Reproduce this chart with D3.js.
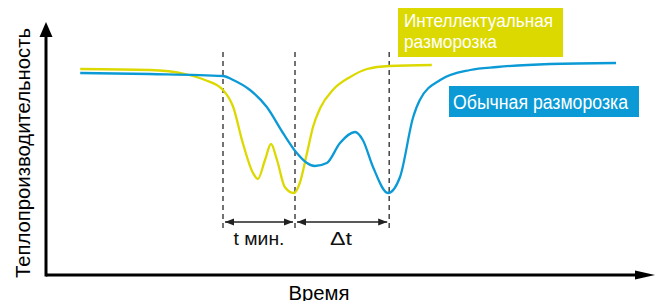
<!DOCTYPE html>
<html>
<head>
<meta charset="utf-8">
<script src="https://cdn.jsdelivr.net/npm/d3@7"></script>
<style>
  html, body { margin: 0; padding: 0; background: #fff; }
  svg { display: block; font-family: "Liberation Sans", Arial, sans-serif; }
</style>
</head>
<body>
<div class="graph"></div>
<script>
// Time (x) and heat output (y), arbitrary units 0..100
const smartTime  = [5.7, 17.3, 23.2, 26.5, 29.5, 31.2, 32.8, 34.5, 35.3, 36.5, 37.5, 38.5, 39.8, 41.3, 42.3, 43.5, 44.5, 45.7, 47.8, 50.7, 53.5, 57.2, 64.3];
const smartValue = [82.4, 82, 80.4, 78, 74, 67.2, 52.8, 40.8, 38.4, 46, 52.4, 46, 35.2, 32.8, 36.8, 48.8, 59.2, 66.8, 74, 79.2, 82.4, 83.6, 84];

const usualTime  = [5.7, 17.3, 29.5, 31.2, 34, 36.8, 39.5, 41.8, 43.5, 44.8, 46.8, 49, 51.5, 52.8, 54.5, 57, 59, 61.2, 62.3, 65.7, 70.7, 75.2, 84, 95];
const usualValue = [80.8, 80.4, 79.6, 78, 74, 67.2, 56.8, 48.8, 44.8, 43.6, 44.8, 52.8, 57.2, 54, 43.2, 32.8, 39.2, 63.2, 70, 78, 82, 83.2, 84.4, 84.8];

const markTimes = [29.5, 41.5, 57.2];
const intervalLabels = ['t мин.', '\u0394t'];
const seriesNames = [['Интеллектуальная', 'разморозка'], ['Обычная разморозка']];
const axisLabels = ['Время', 'Теплопроизводительность'];

const width = 658;
const height = 301;
const yellow = '#dcd900';
const blue = '#0b9ad5';

const svg = d3.select('.graph')
  .append('svg')
  .attr('width', width)
  .attr('height', height);

const x = d3.scaleLinear().domain([0, 100]).range([46, 646]);
const y = d3.scaleLinear().domain([0, 100]).range([275, 25]);

// Axes with arrows
svg.append('line')
  .attr('x1', x(0)).attr('y1', y(0))
  .attr('x2', 640).attr('y2', y(0))
  .attr('stroke', '#000').attr('stroke-width', 3);
svg.append('path')
  .attr('d', `M635,${y(0) - 4.5} L655,${y(0)} L635,${y(0) + 4.5} Z`)
  .attr('fill', '#000');

svg.append('line')
  .attr('x1', x(0)).attr('y1', y(0) + 1.5)
  .attr('x2', x(0)).attr('y2', 34)
  .attr('stroke', '#000').attr('stroke-width', 3);
svg.append('path')
  .attr('d', `M${x(0) - 6.5},37 L${x(0)},22 L${x(0) + 6.5},37 Z`)
  .attr('fill', '#000');

svg.append('text')
  .attr('x', 319).attr('y', 300)
  .attr('text-anchor', 'middle')
  .attr('font-size', '20px')
  .attr('textLength', 61)
  .attr('lengthAdjust', 'spacingAndGlyphs')
  .text(axisLabels[0]);

svg.append('text')
  .attr('transform', 'translate(30,153) rotate(-90)')
  .attr('text-anchor', 'middle')
  .attr('font-size', '20px')
  .attr('textLength', 250)
  .attr('lengthAdjust', 'spacingAndGlyphs')
  .text(axisLabels[1]);

// Dashed markers
svg.selectAll('.mark')
  .data(markTimes)
  .enter()
  .append('line')
  .attr('class', 'mark')
  .attr('x1', d => x(d)).attr('x2', d => x(d))
  .attr('y1', 52).attr('y2', 231)
  .attr('stroke', '#444')
  .attr('stroke-width', 1.5)
  .attr('stroke-dasharray', '5,4');

// Curves
const line = d3.line().curve(d3.curveMonotoneX);
const smartPts = smartTime.map((t, i) => [x(t), y(smartValue[i])]);
const usualPts = usualTime.map((t, i) => [x(t), y(usualValue[i])]);

svg.append('path')
  .attr('d', line(smartPts))
  .attr('fill', 'none')
  .attr('stroke', yellow)
  .attr('stroke-width', 2.3);

svg.append('path')
  .attr('d', line(usualPts))
  .attr('fill', 'none')
  .attr('stroke', blue)
  .attr('stroke-width', 2.3);

// Interval arrows
const arrowY = 222;
const labelLen = [51, 22];
const intervals = d3.pairs(markTimes);
intervals.forEach(([a, b], i) => {
  const x0 = x(a) + 2;
  const x1 = x(b) - 2;
  svg.append('line')
    .attr('x1', x0).attr('x2', x1)
    .attr('y1', arrowY).attr('y2', arrowY)
    .attr('stroke', '#222').attr('stroke-width', 1.3);
  svg.append('path')
    .attr('d', `M${x0},${arrowY} L${x0 + 9},${arrowY - 3.5} L${x0 + 9},${arrowY + 3.5} Z`)
    .attr('fill', '#222');
  svg.append('path')
    .attr('d', `M${x1},${arrowY} L${x1 - 9},${arrowY - 3.5} L${x1 - 9},${arrowY + 3.5} Z`)
    .attr('fill', '#222');
  svg.append('text')
    .attr('x', (x(a) + x(b)) / 2 + (i === 1 ? -1 : 0))
    .attr('y', 245)
    .attr('text-anchor', 'middle')
    .attr('font-size', '19px')
    .attr('textLength', labelLen[i])
    .attr('lengthAdjust', 'spacingAndGlyphs')
    .attr('fill', '#111')
    .text(intervalLabels[i]);
});

// Legend boxes
svg.append('rect')
  .attr('x', 398).attr('y', 8)
  .attr('width', 165).attr('height', 49)
  .attr('fill', yellow);
const smartLen = [149, 93];
svg.selectAll('.smart-label')
  .data(seriesNames[0])
  .enter()
  .append('text')
  .attr('class', 'smart-label')
  .attr('x', 404)
  .attr('y', (d, i) => 27 + i * 21)
  .attr('font-size', '19px')
  .attr('textLength', (d, i) => smartLen[i])
  .attr('lengthAdjust', 'spacingAndGlyphs')
  .attr('fill', '#fff')
  .text(d => d);

svg.append('rect')
  .attr('x', 449).attr('y', 86)
  .attr('width', 190).attr('height', 31)
  .attr('fill', blue);
svg.append('text')
  .attr('x', 453).attr('y', 109)
  .attr('font-size', '20px')
  .attr('textLength', 175)
  .attr('lengthAdjust', 'spacingAndGlyphs')
  .attr('fill', '#fff')
  .text(seriesNames[1][0]);
</script>
</body>
</html>
